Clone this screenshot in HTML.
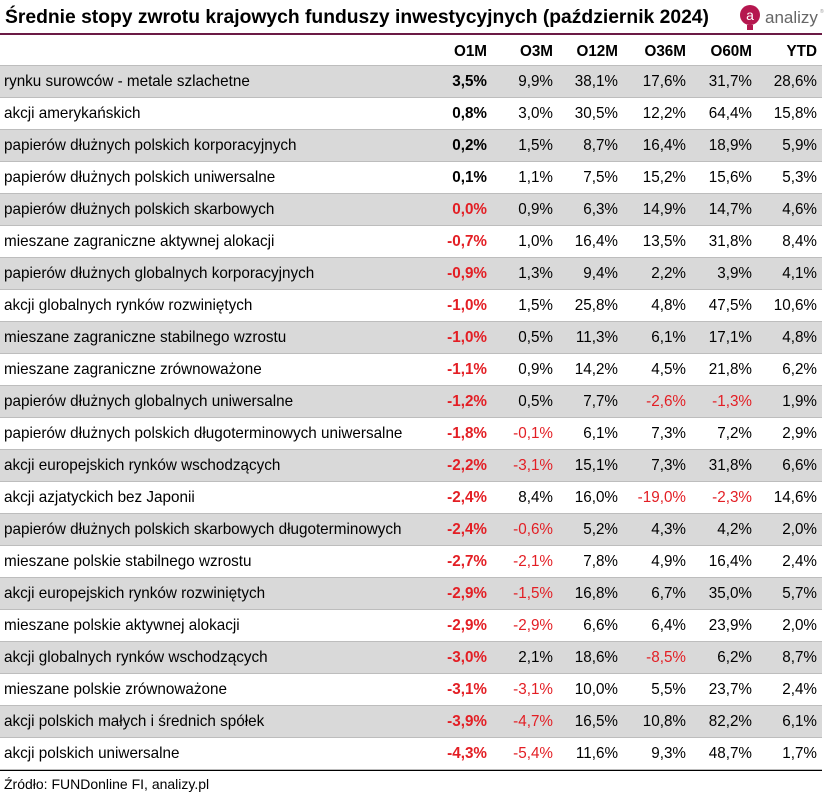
<!DOCTYPE html><html><head><meta charset="utf-8"><style>
body{margin:0;width:826px;height:796px;background:#fff;font-family:"Liberation Sans",Arial,sans-serif;position:relative;overflow:hidden;color:#000}
.t{position:absolute;left:5px;top:7px;font-size:19.3px;font-weight:bold;white-space:nowrap}
.ul{position:absolute;left:0;top:33px;width:822px;height:2px;background:#6b1a45}
.logo{position:absolute;left:736px;top:2px}
.row{position:absolute;left:0;width:822px;height:31px;border-bottom:1px solid #bdbdbd;font-size:15.25px;line-height:31px}
.g{background:#d9d9d9}
.c{position:absolute;top:0;text-align:right;white-space:nowrap}
.n{position:absolute;left:4px;top:0;white-space:nowrap}
.r{color:#e31e24}.b{font-weight:bold}
.h{font-weight:bold;top:2px}
.src{position:absolute;left:4px;top:776px;font-size:14px}
.bl{position:absolute;left:0;top:770px;width:822px;height:1px;background:#000}
</style></head><body>
<div class="t">Średnie stopy zwrotu krajowych funduszy inwestycyjnych (październik 2024)</div>
<div class="ul"></div>
<svg class="logo" width="90" height="32" viewBox="0 0 90 32"><circle cx="14" cy="13" r="10" fill="#b5174f"/><rect x="11" y="23" width="6" height="5" fill="#b5174f"/><text x="14" y="18" font-size="14" fill="#fff" text-anchor="middle" font-family="Liberation Sans">a</text><text x="29" y="21" font-size="17" fill="#666" font-family="Liberation Sans">analizy</text><text x="84" y="11" font-size="5" fill="#999" font-family="Liberation Sans">®</text></svg>
<div id="tb"></div>
<div class="bl"></div>
<div class="src">Źródło: FUNDonline FI, analizy.pl</div>
<script>
var R=[["","O1M","O3M","O12M","O36M","O60M","YTD"],
["rynku surowców - metale szlachetne","3,5%","9,9%","38,1%","17,6%","31,7%","28,6%"],
["akcji amerykańskich","0,8%","3,0%","30,5%","12,2%","64,4%","15,8%"],
["papierów dłużnych polskich korporacyjnych","0,2%","1,5%","8,7%","16,4%","18,9%","5,9%"],
["papierów dłużnych polskich uniwersalne","0,1%","1,1%","7,5%","15,2%","15,6%","5,3%"],
["papierów dłużnych polskich skarbowych","0,0%","0,9%","6,3%","14,9%","14,7%","4,6%"],
["mieszane zagraniczne aktywnej alokacji","-0,7%","1,0%","16,4%","13,5%","31,8%","8,4%"],
["papierów dłużnych globalnych korporacyjnych","-0,9%","1,3%","9,4%","2,2%","3,9%","4,1%"],
["akcji globalnych rynków rozwiniętych","-1,0%","1,5%","25,8%","4,8%","47,5%","10,6%"],
["mieszane zagraniczne stabilnego wzrostu","-1,0%","0,5%","11,3%","6,1%","17,1%","4,8%"],
["mieszane zagraniczne zrównoważone","-1,1%","0,9%","14,2%","4,5%","21,8%","6,2%"],
["papierów dłużnych globalnych uniwersalne","-1,2%","0,5%","7,7%","-2,6%","-1,3%","1,9%"],
["papierów dłużnych polskich długoterminowych uniwersalne","-1,8%","-0,1%","6,1%","7,3%","7,2%","2,9%"],
["akcji europejskich rynków wschodzących","-2,2%","-3,1%","15,1%","7,3%","31,8%","6,6%"],
["akcji azjatyckich bez Japonii","-2,4%","8,4%","16,0%","-19,0%","-2,3%","14,6%"],
["papierów dłużnych polskich skarbowych długoterminowych","-2,4%","-0,6%","5,2%","4,3%","4,2%","2,0%"],
["mieszane polskie stabilnego wzrostu","-2,7%","-2,1%","7,8%","4,9%","16,4%","2,4%"],
["akcji europejskich rynków rozwiniętych","-2,9%","-1,5%","16,8%","6,7%","35,0%","5,7%"],
["mieszane polskie aktywnej alokacji","-2,9%","-2,9%","6,6%","6,4%","23,9%","2,0%"],
["akcji globalnych rynków wschodzących","-3,0%","2,1%","18,6%","-8,5%","6,2%","8,7%"],
["mieszane polskie zrównoważone","-3,1%","-3,1%","10,0%","5,5%","23,7%","2,4%"],
["akcji polskich małych i średnich spółek","-3,9%","-4,7%","16,5%","10,8%","82,2%","6,1%"],
["akcji polskich uniwersalne","-4,3%","-5,4%","11,6%","9,3%","48,7%","1,7%"]];
var X=[487,553,618,686,752,817],h="";
R.forEach(function(r,i){var top=i==0?34:34+i*32;var cls="row"+(i>0&&i%2==1?" g":"");
h+='<div class="'+cls+'" style="top:'+top+'px">';
h+='<span class="n">'+r[0]+'</span>';
for(var j=1;j<7;j++){var c="c";if(i==0)c+=" h";else{if(j==1){c+=" b";if(r[j][0]=="-"||r[j]=="0,0%")c+=" r";}else if(r[j][0]=="-")c+=" r";}
h+='<span class="'+c+'" style="right:'+(822-X[j-1])+'px">'+r[j]+'</span>';}
h+='</div>';});
document.getElementById("tb").innerHTML=h;
</script>
</body></html>
